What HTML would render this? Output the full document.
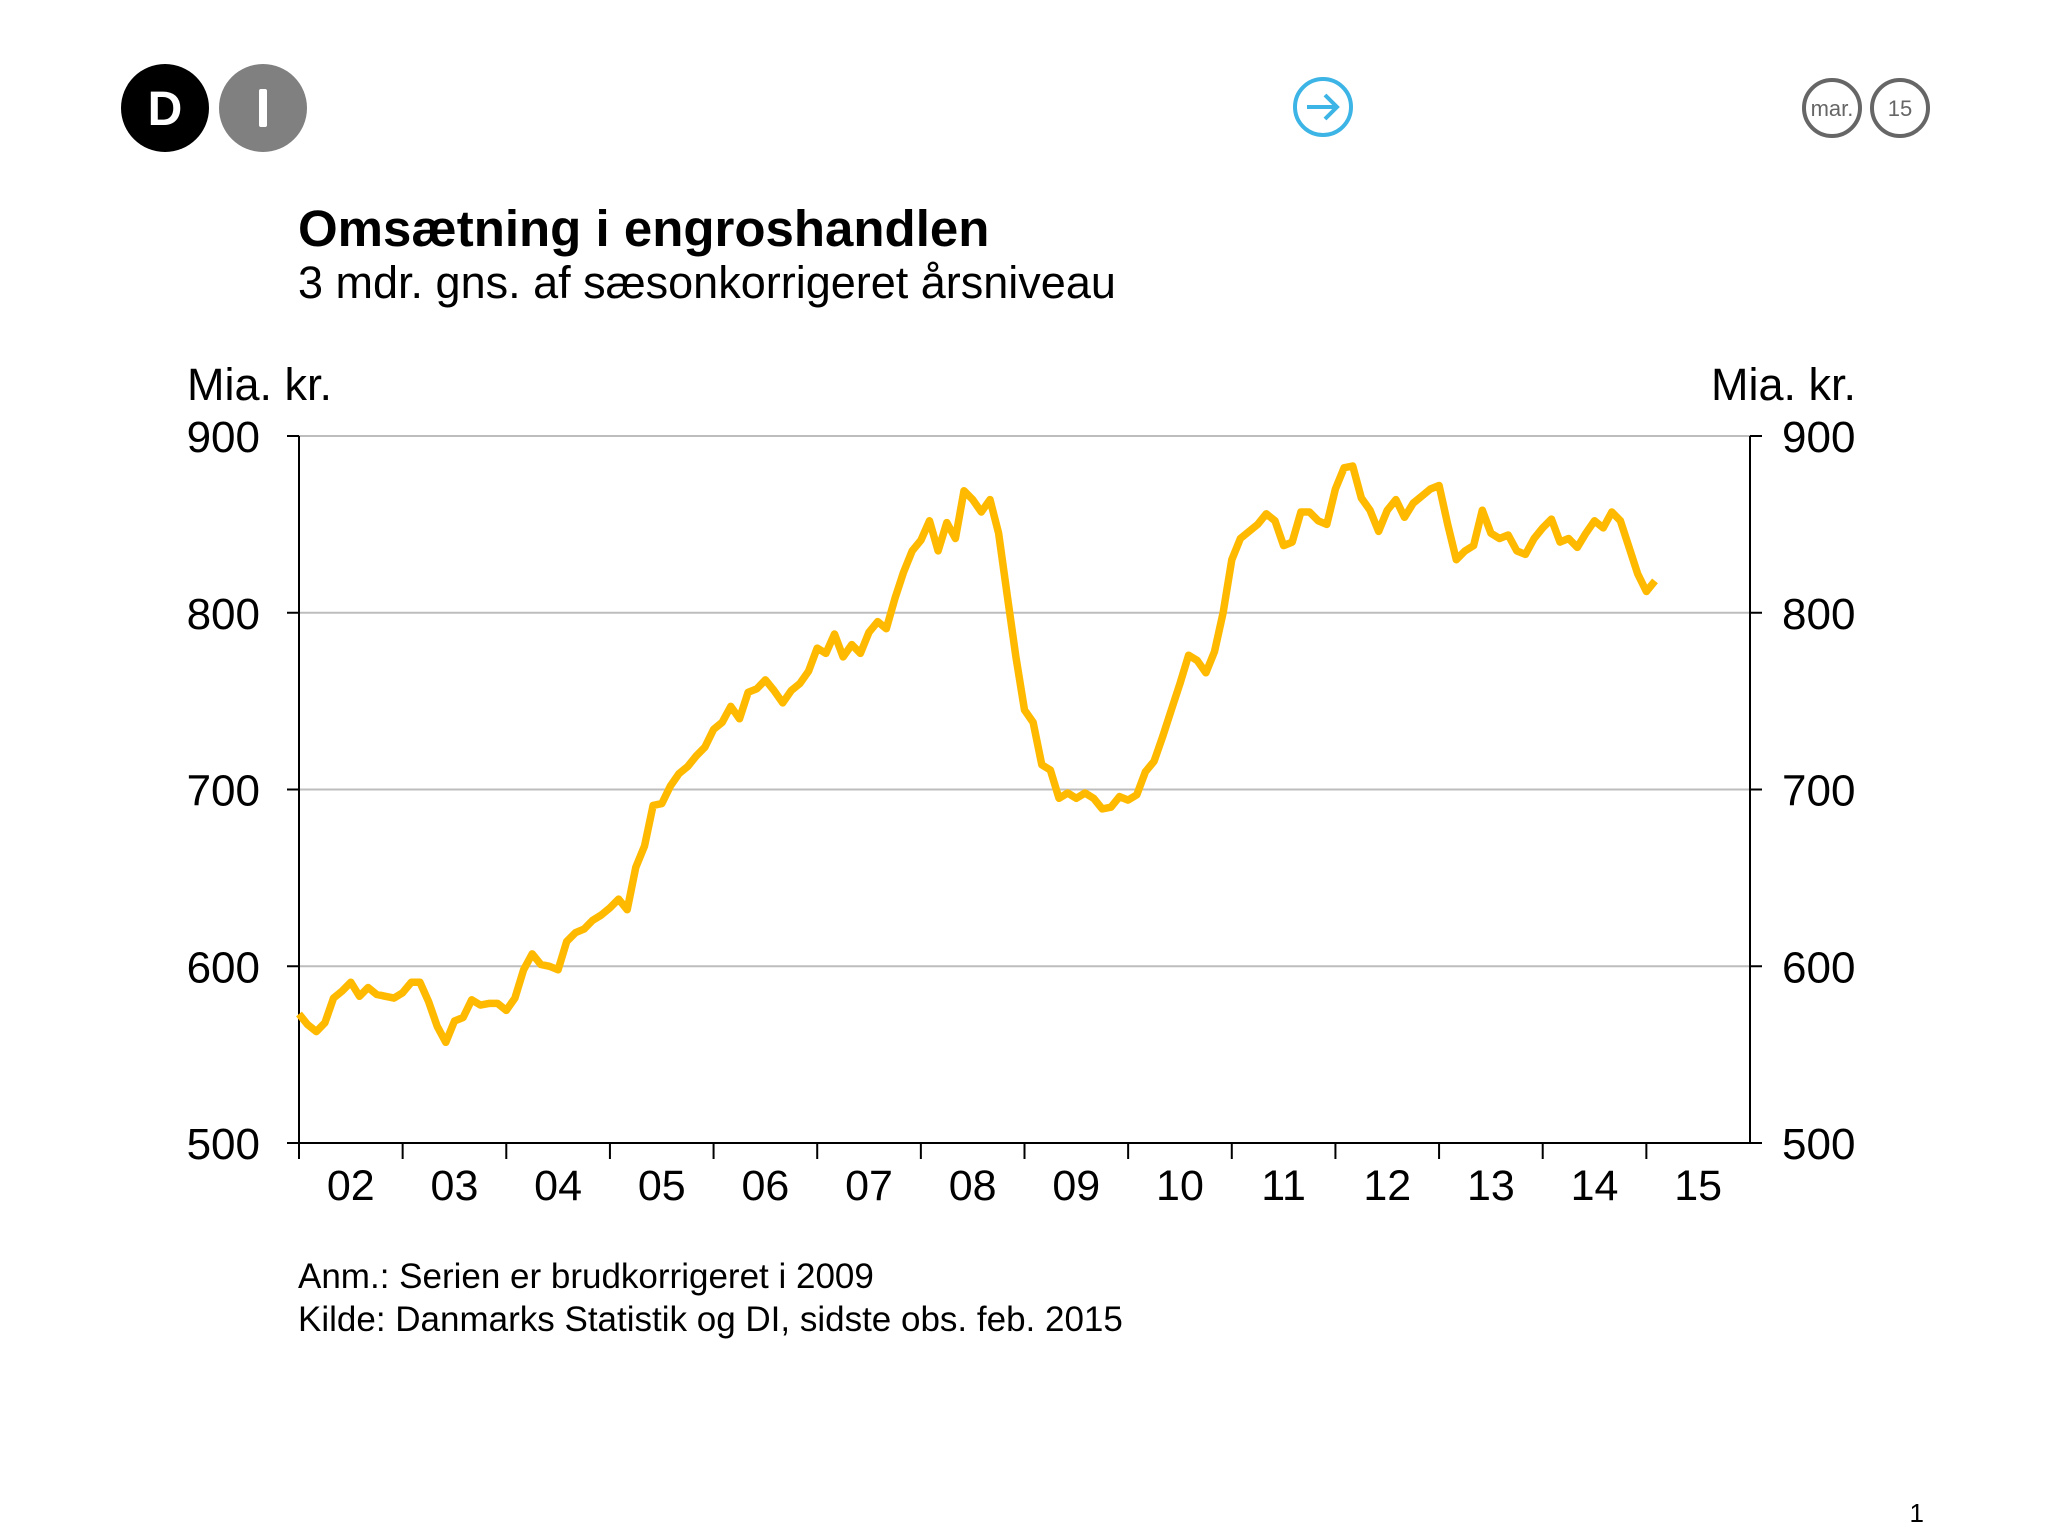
<!DOCTYPE html>
<html><head><meta charset="utf-8"><style>
body{margin:0;background:#fff;}
svg{display:block;font-family:"Liberation Sans",Arial,sans-serif;}
</style></head><body>
<svg id="chart" width="2048" height="1536" viewBox="0 0 2048 1536">
<g>
<circle cx="165" cy="108" r="44" fill="#000"/>
<text x="165" y="125" font-size="48" font-weight="bold" fill="#fff" text-anchor="middle">D</text>
<circle cx="263" cy="108" r="44" fill="#808080"/>
<rect x="259" y="89" width="8" height="38" rx="2" fill="#fff"/>
</g>
<g>
<circle cx="1323" cy="107" r="28" fill="none" stroke="#3cb4e5" stroke-width="4"/>
<path d="M1307 107 H1337 M1325 95 L1337 107 L1325 119" fill="none" stroke="#3cb4e5" stroke-width="4"/>
</g>
<g>
<circle cx="1832" cy="108" r="28" fill="none" stroke="#666" stroke-width="4"/>
<text x="1832" y="116" font-size="22" fill="#666" text-anchor="middle">mar.</text>
<circle cx="1900" cy="108" r="28" fill="none" stroke="#666" stroke-width="4"/>
<text x="1900" y="116" font-size="22" fill="#666" text-anchor="middle">15</text>
</g>
<text x="298" y="246" font-size="51" font-weight="bold">Omsætning i engroshandlen</text>
<text x="298" y="298" font-size="45">3 mdr. gns. af sæsonkorrigeret årsniveau</text>
<text x="187" y="400" font-size="45">Mia. kr.</text>
<text x="1856" y="400" font-size="45" text-anchor="end">Mia. kr.</text>
<g id="grid"></g>
<g id="axes"></g>
<g id="series"></g>
<text x="298" y="1288" font-size="35">Anm.: Serien er brudkorrigeret i 2009</text>
<text x="298" y="1331" font-size="35">Kilde: Danmarks Statistik og DI, sidste obs. feb. 2015</text>
<text x="1924" y="1522" font-size="26" text-anchor="end">1</text>
</svg>
<script>
const yTicks=[500,600,700,800,900];
const xLabels=["02","03","04","05","06","07","08","09","10","11","12","13","14","15"];
const startYear=2002;
const values=[
573,567,563,568,582,586,591,583,588,584,583,582,
585,591,591,580,566,557,569,571,581,578,579,579,
575,582,598,607,601,600,598,614,619,621,626,629,
633,638,632,656,668,691,692,702,709,713,719,724,
734,738,747,740,755,757,762,756,749,756,760,767,
780,777,788,775,782,777,789,795,791,808,823,835,
841,852,835,851,842,869,864,857,864,845,810,775,
745,738,714,711,695,698,695,698,695,689,690,696,
694,697,710,716,730,745,760,776,773,766,778,800,
830,842,846,850,856,852,838,840,857,857,852,850,
870,882,883,865,858,846,858,864,854,862,866,870,
872,850,830,835,838,858,845,842,844,835,833,842,
848,853,840,842,837,845,852,848,857,852,837,822,
812,818];
const NS="http://www.w3.org/2000/svg";
const L=299,R=1750,T=436,B=1143,yMin=500,yMax=900;
const nYears=xLabels.length;
function yS(v){return B-(v-yMin)/(yMax-yMin)*(B-T);}
function xS(t){return L+(t-startYear)/nYears*(R-L);}
function mk(tag,attrs,parent){const e=document.createElementNS(NS,tag);for(const k in attrs)e.setAttribute(k,attrs[k]);parent.appendChild(e);return e;}
const grid=document.getElementById('grid'),axes=document.getElementById('axes'),series=document.getElementById('series');
yTicks.forEach(v=>{
 const y=yS(v);
 if(v>yMin){const g=mk('line',{x1:L,x2:R,y1:y,y2:y,stroke:'#bdbdbd','stroke-width':2},grid);
 
 }
 const t1=mk('line',{x1:L-12,x2:L,y1:y,y2:y,stroke:'#000','stroke-width':2},axes);
 
 
 const t2=mk('line',{x1:R,x2:R+12,y1:y,y2:y,stroke:'#000','stroke-width':2},axes);
 
 
 const a=mk('text',{x:260,y:y+16,'font-size':44,'text-anchor':'end'},axes);a.textContent=v;
 
 
 const b=mk('text',{x:1782,y:y+16,'font-size':44},axes);b.textContent=v;
 
 
});
const la=mk('line',{x1:L,x2:L,y1:T,y2:B,stroke:'#000','stroke-width':2},axes);


const ra=mk('line',{x1:R,x2:R,y1:T,y2:B,stroke:'#000','stroke-width':2},axes);


const xa=mk('line',{x1:L,x2:R,y1:B,y2:B,stroke:'#000','stroke-width':2},axes);


xLabels.forEach((lab,i)=>{
 const x=xS(startYear+i);
 const tk=mk('line',{x1:x,x2:x,y1:B,y2:B+16,stroke:'#000','stroke-width':2},axes);
 
 
 const t=mk('text',{x:xS(startYear+i+0.5),y:1200,'font-size':43,'text-anchor':'middle'},axes);t.textContent=lab;
 
 
});
const pts=values.map((v,i)=>xS(startYear+i/12).toFixed(1)+','+yS(v).toFixed(1)).join(' ');
const pl=mk('polyline',{points:pts,fill:'none',stroke:'#FFBA00','stroke-width':7.5,'stroke-linejoin':'round'},series);


</script>
</body></html>
